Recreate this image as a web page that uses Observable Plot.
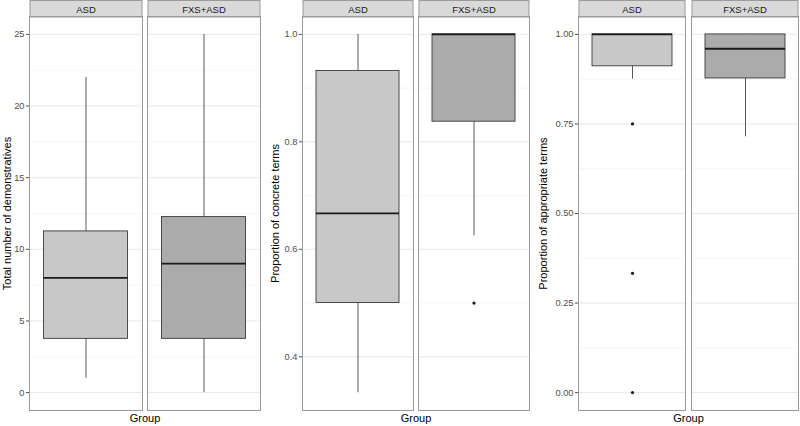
<!DOCTYPE html>
<html><head><meta charset="utf-8">
<script src="https://cdn.jsdelivr.net/npm/d3@7"></script>
<script src="https://cdn.jsdelivr.net/npm/@observablehq/plot@0.6"></script>
<style>
body{margin:0;background:#fff;}
#root{position:relative;width:800px;height:426px;overflow:hidden;font-family:"Liberation Sans",Arial,sans-serif;background:#fff;}
#root svg{position:absolute;top:0;}
</style></head><body><div id="root"></div>
<script>
const groups = ["ASD", "FXS+ASD"];
const fills = ["#c8c8c8", "#ababab"];

// Panel 1: Total number of demonstratives
const demoLower = [1, 0];
const demoQ1 = [3.75, 3.75];
const demoMedian = [8, 9];
const demoQ3 = [11.25, 12.25];
const demoUpper = [22, 25];
const demoOutliers = [];
const demoTicks = [0, 5, 10, 15, 20, 25];
const demoMinor = [2.5, 7.5, 12.5, 17.5, 22.5];

// Panel 2: Proportion of concrete terms
const concLower = [0.333, 0.625];
const concQ1 = [0.5, 0.8375];
const concMedian = [0.667, 1];
const concQ3 = [0.932, 1];
const concUpper = [1, 1];
const concOutliers = [["FXS+ASD", 0.5]];
const concTicks = [0.4, 0.6, 0.8, 1.0];
const concMinor = [0.3, 0.5, 0.7, 0.9];

// Panel 3: Proportion of appropriate terms
const apprLower = [0.875, 0.714];
const apprQ1 = [0.911, 0.877];
const apprMedian = [1, 0.96];
const apprQ3 = [1, 1];
const apprUpper = [1, 1];
const apprOutliers = [["ASD", 0.75], ["ASD", 0.333], ["ASD", 0]];
const apprTicks = [0, 0.25, 0.5, 0.75, 1];
const apprMinor = [0.125, 0.375, 0.625, 0.875];

const panels = [
  {left: 0, width: 265, ml: 28.5, mr: 4, fxPad: 0.042, domain: [-1.25, 26.25],
   lower: demoLower, q1: demoQ1, median: demoMedian, q3: demoQ3, upper: demoUpper, outliers: demoOutliers,
   ticks: demoTicks, minor: demoMinor, fmt: d3.format("d"), title: "Total number of demonstratives", labelOffset: 26},
  {left: 265, width: 267, ml: 37, mr: 2, fxPad: 0.043, domain: [0.3, 1.0333],
   lower: concLower, q1: concQ1, median: concMedian, q3: concQ3, upper: concUpper, outliers: concOutliers,
   ticks: concTicks, minor: concMinor, fmt: d3.format(".1f"), title: "Proportion of concrete terms", labelOffset: 31.5},
  {left: 532, width: 268, ml: 45, mr: 1.3, fxPad: 0.053, domain: [-0.05, 1.05],
   lower: apprLower, q1: apprQ1, median: apprMedian, q3: apprQ3, upper: apprUpper, outliers: apprOutliers,
   ticks: apprTicks, minor: apprMinor, fmt: d3.format(".2f"), title: "Proportion of appropriate terms", labelOffset: 39.5}
];

const root = document.getElementById("root");

for (const p of panels) {
  const data = groups.map((g, i) => ({group: g, lower: p.lower[i], q1: p.q1[i], median: p.median[i], q3: p.q3[i], upper: p.upper[i]}));
  const out = p.outliers.map(([g, v]) => ({group: g, value: v}));
  const chart = Plot.plot({
    width: p.width, height: 426,
    marginLeft: p.ml, marginRight: p.mr, marginTop: 16, marginBottom: 16,
    style: {fontFamily: "'Liberation Sans', Arial, sans-serif", fontSize: "9px", background: "transparent", overflow: "visible"},
    fx: {domain: groups, padding: p.fxPad},
    x: {domain: ["box"], padding: 1 / 7, axis: null},
    y: {domain: p.domain, axis: null},
    color: {domain: groups, range: fills},
    marks: [
      Plot.gridY(p.minor, {stroke: "#f0f0f0", strokeOpacity: 1, strokeWidth: 0.6}),
      Plot.gridY(p.ticks, {stroke: "#e8e8e8", strokeOpacity: 1, strokeWidth: 1}),
      Plot.ruleX(data, {fx: "group", x: () => "box", y1: "lower", y2: "upper", stroke: "#474747", strokeWidth: 0.9}),
      Plot.barY(data, {fx: "group", x: () => "box", y1: "q1", y2: "q3", fill: "group", stroke: "#3a3a3a", strokeWidth: 0.9}),
      Plot.tickY(data, {fx: "group", x: () => "box", y: "median", stroke: "#1a1a1a", strokeWidth: 1.8}),
      Plot.dot(out, {fx: "group", x: () => "box", y: "value", r: 1.6, fill: "#1a1a1a", stroke: null}),
      Plot.frame({stroke: "#9a9a9a", strokeWidth: 1}),
      Plot.axisY(p.ticks, {tickFormat: p.fmt, tickSize: 3, tickPadding: 2, color: "#4d4d4d", fontSize: 9.3,
        label: null}),
      Plot.axisY(p.ticks, {tickFormat: () => "", tickSize: 0, color: "#000", fontSize: 11,
        label: p.title, labelAnchor: "center", labelOffset: p.labelOffset, labelArrow: false}),
      Plot.axisFx({anchor: "top", tickSize: 0, tickPadding: 4, label: null, fontSize: 9.5, color: "#1a1a1a"}),
      Plot.axisFx({anchor: "bottom", tickSize: 0, tickFormat: () => "", label: "Group", labelAnchor: "center",
        labelOffset: 11.5, fontSize: 11, color: "#000", labelArrow: false})
    ]
  });
  chart.style.left = p.left + "px";
  root.append(chart);

  // facet strips
  const svgBox = chart.getBoundingClientRect();
  const frames = chart.querySelectorAll('[aria-label="frame"] rect');
  const firstG = chart.querySelector("g");
  frames.forEach(r => {
    const b = r.getBoundingClientRect();
    const s = document.createElementNS("http://www.w3.org/2000/svg", "rect");
    s.setAttribute("x", b.left - svgBox.left + 0.5);
    s.setAttribute("y", 0.5);
    s.setAttribute("width", b.width - 1);
    s.setAttribute("height", b.top - svgBox.top);
    s.setAttribute("fill", "#d9d9d9");
    s.setAttribute("stroke", "#9a9a9a");
    s.setAttribute("stroke-width", 1);
    chart.insertBefore(s, firstG);
  });
}
</script></body></html>
